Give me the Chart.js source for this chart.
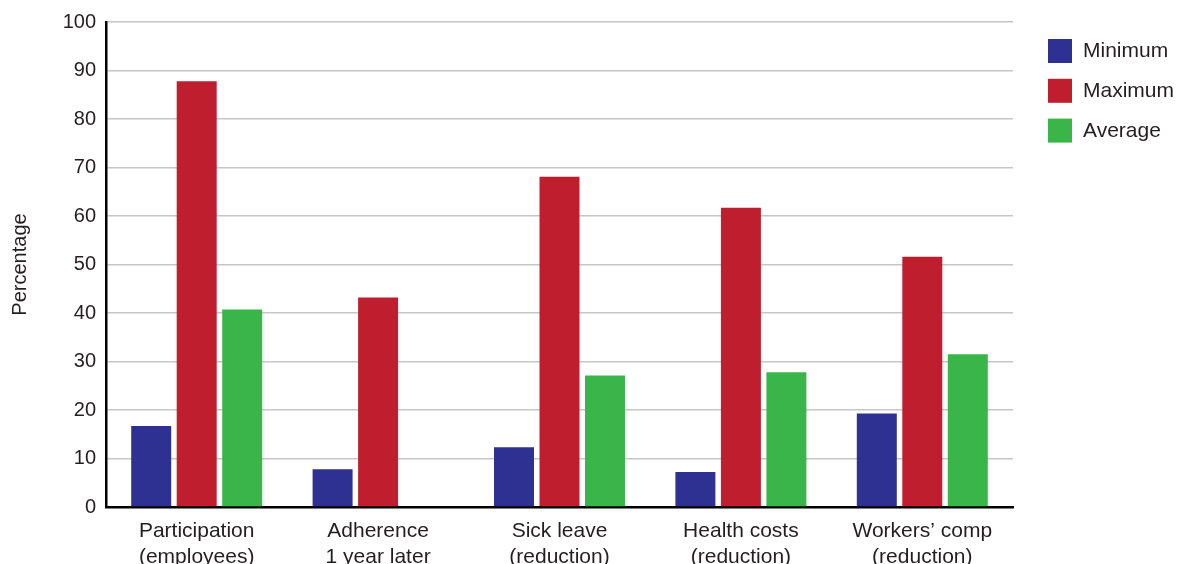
<!DOCTYPE html>
<html>
<head>
<meta charset="utf-8">
<script src="https://cdn.jsdelivr.net/npm/chart.js@4.4.0/dist/chart.umd.min.js"></script>
<style>
    html, body { margin: 0; padding: 0; background: #fff; }
    #wrap { width: 1181px; height: 564px; }
</style>
</head>
<body>
<div id="wrap"><canvas id="chart" width="1181" height="564"></canvas></div>
<script>
// 数据
const categories = [
    ['Participation', '(employees)'],
    ['Adherence', '1 year later'],
    ['Sick leave', '(reduction)'],
    ['Health costs', '(reduction)'],
    ['Workers\u2019 comp', '(reduction)']
];
const minimumValues = [16.7, 7.8, 12.3, 7.2, 19.3];
const maximumValues = [87.8, 43.2, 68.1, 61.7, 51.6];
const averageValues = [40.7, null, 27.1, 27.8, 31.5];
const yTicks = [0, 10, 20, 30, 40, 50, 60, 70, 80, 90, 100];

const TEXT = '#231f20';
const FONT = "'Liberation Sans', Arial, Helvetica, sans-serif";

// 右侧图例
const sideLegend = {
    id: 'sideLegend',
    afterDraw(chart) {
        const ctx = chart.ctx;
        ctx.save();
        ctx.font = '21px ' + FONT;
        ctx.textBaseline = 'middle';
        ctx.textAlign = 'left';
        chart.data.datasets.forEach((ds, i) => {
            const top = 39 + i * 39.8;
            ctx.fillStyle = ds.backgroundColor;
            ctx.fillRect(1048, top, 24, 24);
            ctx.fillStyle = TEXT;
            ctx.fillText(ds.label, 1083, top + 12.5);
        });
        ctx.restore();
    }
};

const ctx = document.getElementById('chart').getContext('2d');
new Chart(ctx, {
    type: 'bar',
    data: {
        labels: categories,
        datasets: [
            { label: 'Minimum', data: minimumValues, backgroundColor: '#2e3192' },
            { label: 'Maximum', data: maximumValues, backgroundColor: '#be1e2d' },
            { label: 'Average', data: averageValues, backgroundColor: '#39b54a' }
        ]
    },
    options: {
        responsive: false,
        animation: false,
        layout: { padding: { top: 21, right: 168, bottom: 0, left: 0 } },
        datasets: {
            bar: { categoryPercentage: 0.7525, barPercentage: 0.879 }
        },
        scales: {
            x: {
                grid: { display: false },
                border: { color: '#000', width: 2.5 },
                ticks: {
                    color: TEXT,
                    padding: 3,
                    maxRotation: 0,
                    autoSkip: false,
                    font: { family: FONT, size: 21, lineHeight: 1.25 }
                },
                afterFit(scale) { scale.height = 57; }
            },
            y: {
                min: 0,
                max: 100,
                afterBuildTicks(scale) { scale.ticks = yTicks.map(v => ({ value: v })); },
                grid: { color: '#c6c6c6', lineWidth: 1.5, drawTicks: false },
                border: { color: '#000', width: 2.5 },
                ticks: {
                    color: TEXT,
                    padding: 10,
                    font: { family: FONT, size: 20 }
                },
                title: {
                    display: true,
                    text: 'Percentage',
                    color: TEXT,
                    padding: { top: 8, bottom: 0 },
                    font: { family: FONT, size: 20 }
                },
                afterFit(scale) { scale.width = 106; }
            }
        },
        plugins: {
            legend: { display: false },
            tooltip: { enabled: false }
        }
    },
    plugins: [sideLegend]
});
</script>
</body>
</html>
